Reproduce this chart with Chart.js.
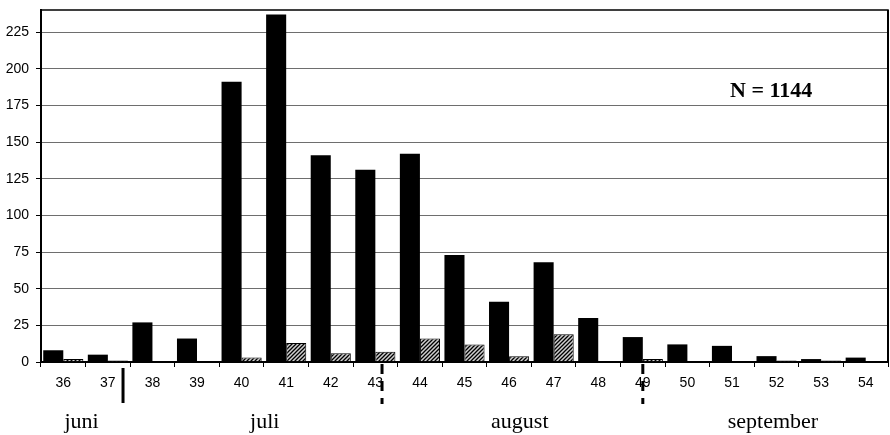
<!DOCTYPE html>
<html>
<head>
<meta charset="utf-8">
<script src="https://cdn.jsdelivr.net/npm/chart.js@4.4.1/dist/chart.umd.min.js"></script>
<style>
  html, body { margin: 0; padding: 0; background: #fff; }
</style>
</head>
<body>
<canvas id="chart" width="890" height="435"></canvas>
<script>
const weeks = ['36', '37', '38', '39', '40', '41', '42', '43', '44', '45', '46', '47', '48', '49', '50', '51', '52', '53', '54'];
const solidCounts = [8, 5, 27, 16, 191, 237, 141, 131, 142, 73, 41, 68, 30, 17, 12, 11, 4, 2, 3];
const hatchedCounts = [2, 1, 0, 0, 3, 13, 6, 7, 16, 12, 4, 19, 0, 2, 0, 0, 1, 1, 0];
const yTicks = [0, 25, 50, 75, 100, 125, 150, 175, 200, 225];
const months = ['juni', 'juli', 'august', 'september'];
const noteText = 'N = 1144';

// where things sit, in category units (index on the x scale)
const monthAt = [0.41, 4.52, 10.24, 15.92];
const solidMarkAt = 1.34;
const dashedMarksAt = [7.15, 13];

function hatch() {
  const c = document.createElement('canvas');
  c.width = 4;
  c.height = 4;
  const g = c.getContext('2d');
  g.fillStyle = '#cfcfcf';
  g.fillRect(0, 0, 4, 4);
  g.strokeStyle = '#000';
  g.lineWidth = 1.3;
  g.beginPath();
  g.moveTo(-1, 5); g.lineTo(5, -1);
  g.moveTo(-1, 1); g.lineTo(1, -1);
  g.moveTo(3, 5); g.lineTo(5, 3);
  g.stroke();
  return g.createPattern(c, 'repeat');
}

const extras = {
  id: 'extras',
  afterDraw(chart) {
    const { ctx, chartArea: a } = chart;
    const x = chart.scales.x;
    ctx.save();
    // frame
    ctx.strokeStyle = '#000';
    ctx.lineWidth = 1.5;
    ctx.strokeRect(a.left, a.top, a.right - a.left, a.bottom - a.top);
    ctx.lineWidth = 2;
    ctx.beginPath();
    ctx.moveTo(a.right, a.top); ctx.lineTo(a.right, a.bottom);
    ctx.stroke();

    // month separators
    ctx.lineWidth = 3;
    const sx = x.getPixelForValue(solidMarkAt);
    ctx.beginPath();
    ctx.moveTo(sx, a.bottom + 6); ctx.lineTo(sx, a.bottom + 41);
    ctx.stroke();
    ctx.setLineDash([10, 7]);
    dashedMarksAt.forEach((v) => {
      const px = x.getPixelForValue(v);
      ctx.beginPath();
      ctx.moveTo(px, a.bottom + 2); ctx.lineTo(px, a.bottom + 42);
      ctx.stroke();
    });
    ctx.setLineDash([]);

    // month names
    ctx.fillStyle = '#000';
    ctx.font = '22px "Liberation Serif", "Times New Roman", serif';
    ctx.textAlign = 'center';
    ctx.textBaseline = 'alphabetic';
    months.forEach((m, i) => {
      ctx.fillText(m, x.getPixelForValue(monthAt[i]), a.bottom + 66);
    });

    // N note
    ctx.font = 'bold 22px "Liberation Serif", "Times New Roman", serif';
    ctx.fillText(noteText, x.getPixelForValue(15.88), chart.scales.y.getPixelForValue(181));
    ctx.restore();
  },
};

new Chart(document.getElementById('chart'), {
  type: 'bar',
  data: {
    labels: weeks,
    datasets: [
      {
        data: solidCounts,
        backgroundColor: '#000',
        borderColor: '#000',
        borderWidth: 0,
        categoryPercentage: 0.9,
        barPercentage: 1.0,
      },
      {
        data: hatchedCounts,
        backgroundColor: hatch(),
        borderColor: '#000',
        borderWidth: 1,
        categoryPercentage: 0.9,
        barPercentage: 1.0,
      },
    ],
  },
  options: {
    responsive: false,
    animation: false,
    layout: { padding: { top: 10, right: 2, left: 0, bottom: 0 } },
    plugins: { legend: { display: false }, tooltip: { enabled: false } },
    scales: {
      x: {
        afterFit: (s) => { s.height = 73; },
        grid: { display: true, drawOnChartArea: false, color: '#000', tickLength: 5, offset: true },
        border: { color: '#000', width: 2 },
        ticks: {
          color: '#000',
          padding: 8,
          font: { family: '"Liberation Sans", Arial, sans-serif', size: 14 },
        },
      },
      y: {
        min: 0,
        max: 240,
        afterFit: (s) => { s.width = 41; s.paddingTop = 0; s.paddingBottom = 0; },
        afterBuildTicks: (s) => { s.ticks = yTicks.map((v) => ({ value: v })); },
        grid: { color: '#6e6e6e', lineWidth: 1, tickColor: '#000', tickLength: 5 },
        border: { color: '#000', width: 2 },
        ticks: {
          color: '#000',
          padding: 7,
          font: { family: '"Liberation Sans", Arial, sans-serif', size: 14 },
        },
      },
    },
  },
  plugins: [extras],
});
</script>
</body>
</html>
